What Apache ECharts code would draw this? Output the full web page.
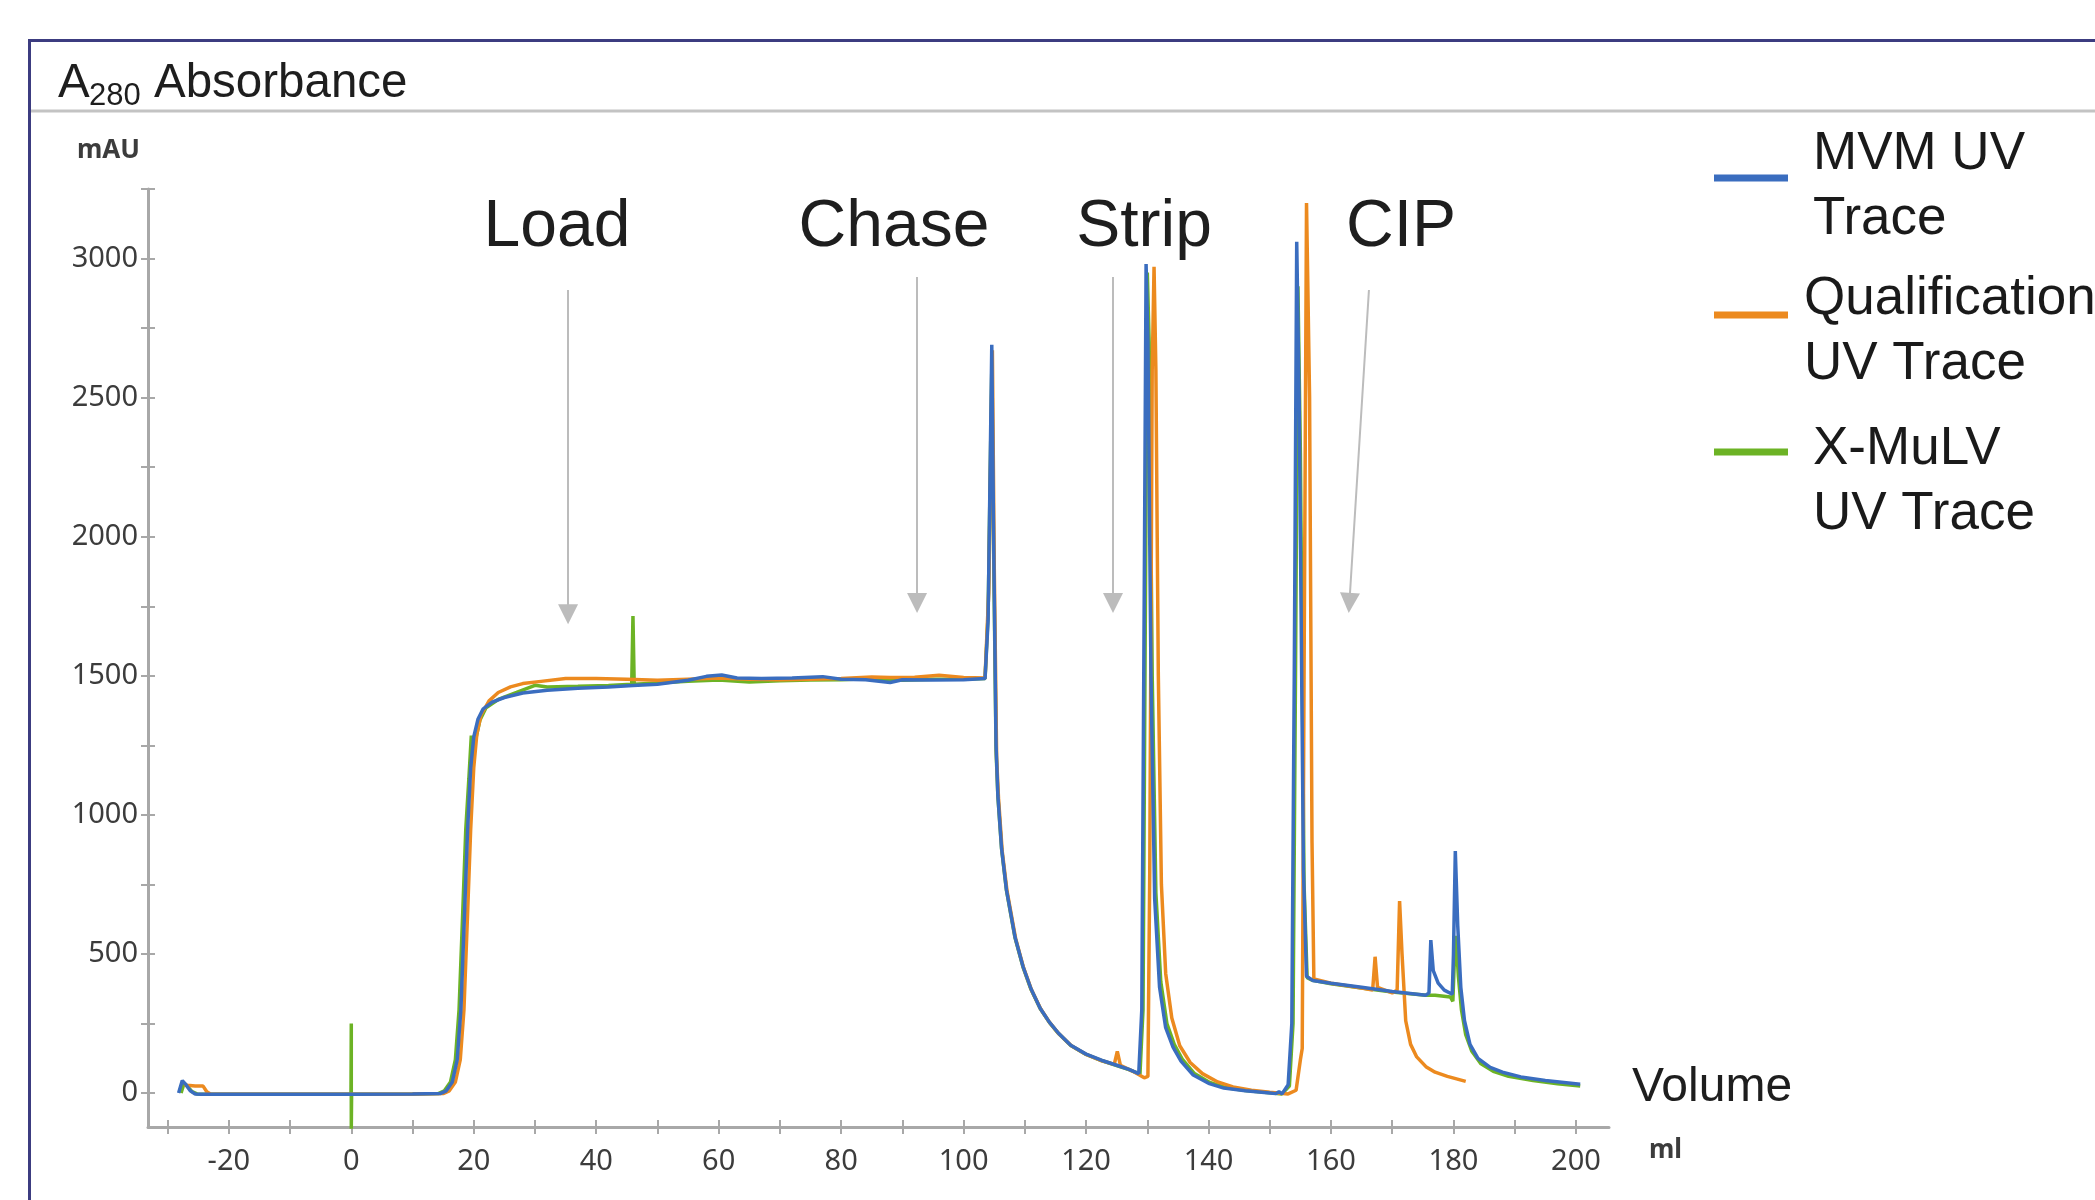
<!DOCTYPE html>
<html>
<head>
<meta charset="utf-8">
<title>A280 Absorbance</title>
<script src="https://cdn.jsdelivr.net/npm/echarts@6/dist/echarts.min.js"></script>
<style>
  html, body { margin: 0; padding: 0; background: #fff; }
  #chart { width: 2095px; height: 1200px; }
</style>
</head>
<body>
<div id="chart"></div>
<script>
// traces: [volume ml, absorbance mAU]
var mvmTrace = [
  [-28.2, 0], [-27.6, 45], [-27.0, 30], [-26.3, 8], [-25.5, -3], [-24.5, -4], [-15, -4], [0, -4],
  [10, -3], [14.5, -2], [15.5, 8], [16.5, 40], [17.3, 120], [17.9, 300], [18.5, 650], [19.0, 950],
  [19.5, 1170], [20.0, 1280], [20.7, 1345], [21.5, 1380], [23, 1405], [25, 1422], [28, 1438],
  [32, 1448], [37, 1455], [42, 1460], [46, 1465], [50, 1470], [55, 1484], [58, 1498], [60.5, 1503],
  [63, 1492], [67, 1490], [72, 1492], [77, 1497], [80, 1488], [84, 1486], [88, 1476], [90, 1486],
  [95, 1485], [100, 1486], [103.5, 1490], [104.0, 1700], [104.6, 2690], [104.9, 2000], [105.3, 1250],
  [105.6, 1068], [106.2, 880], [107.0, 730], [108.4, 560], [109.7, 455], [111, 375], [112.5, 305],
  [114, 255], [115.5, 215], [117.5, 172], [120, 140], [122.5, 118], [125, 100], [127, 85],
  [128.6, 70], [129.1, 300], [129.5, 1800], [129.8, 2980], [130.1, 2700], [130.6, 1500], [131.2, 700],
  [132, 380], [133, 235], [134.2, 165], [135.5, 115], [137.5, 65], [140, 35], [142.5, 18], [146, 8],
  [150, 0], [151, -2], [151.5, 5], [152, -3], [153, 30], [153.6, 250], [154.0, 1500], [154.4, 3060],
  [154.8, 2500], [155.5, 800], [156.0, 420], [157, 405], [160, 395], [165, 380], [170, 365],
  [175.5, 352], [176.0, 360], [176.3, 550], [176.7, 440], [177.5, 395], [178.5, 370], [179.8, 355],
  [180.0, 500], [180.3, 870], [180.7, 600], [181.2, 380], [181.8, 260], [182.7, 175], [184, 125],
  [186, 92], [188, 75], [191, 58], [195, 45], [200.7, 32]
];
var qualTrace = [
  [-27.3, 30], [-26.8, 28], [-25.5, 25], [-24.2, 25], [-23.6, 5], [-23, -3], [-15, -4], [0, -4],
  [10, -3], [15, -2], [16, 8], [17, 40], [17.8, 120], [18.4, 300], [19.0, 650], [19.5, 950],
  [20.0, 1170], [20.5, 1290], [21.2, 1360], [22.5, 1410], [24, 1440], [26, 1460], [28, 1472],
  [31, 1480], [35, 1490], [40, 1490], [45, 1488], [50, 1484], [55, 1488], [60, 1492], [65, 1488],
  [70, 1486], [75, 1488], [80, 1490], [85, 1496], [88, 1494], [92, 1495], [96, 1502], [100, 1494],
  [103.5, 1492], [104.1, 1800], [104.7, 2670], [105.0, 1900], [105.4, 1200], [105.7, 1060],
  [106.3, 870], [107.1, 725], [108.5, 555], [109.8, 450], [111.1, 370], [112.6, 302], [114.1, 252],
  [115.6, 212], [117.6, 170], [120.1, 138], [122.6, 116], [124.6, 103], [125.1, 150], [125.6, 100],
  [127.5, 80], [129.5, 55], [130.1, 60], [130.4, 800], [130.8, 2600], [131.1, 2970], [131.4, 2600],
  [131.8, 1500], [132.3, 750], [133, 430], [134, 270], [135.3, 170], [137, 110], [139, 70],
  [141.5, 40], [144, 22], [147, 10], [150, 3], [153, -3], [154.3, 10], [155.0, 120], [155.3, 160],
  [155.6, 1500], [156.0, 3200], [156.5, 2500], [156.9, 900], [157.2, 410], [160, 395], [165, 378],
  [166.8, 370], [167.2, 490], [167.6, 380], [170, 360], [170.8, 370], [171.2, 690], [171.6, 500],
  [172.2, 260], [173, 175], [174, 130], [175.5, 95], [177, 75], [179, 60], [182, 42]
];
var xmulvTrace = [
  [-27.8, 0], [-27.3, 35], [-26.8, 25], [-26, 5], [-25.2, -3], [-15, -4], [-0.05, -4], [0, 250],
  [0, -130], [0.05, -4], [10, -3], [14.2, -2], [15.2, 8], [16.2, 40], [17.0, 120], [17.6, 300],
  [18.2, 650], [18.7, 950], [19.2, 1130], [19.6, 1285], [19.8, 1150], [20.2, 1260], [21.0, 1340],
  [22, 1385], [24, 1415], [27, 1440], [30, 1466], [32, 1460], [37, 1462], [42, 1465], [45.8, 1470],
  [46.0, 1715], [46.2, 1470], [50, 1474], [55, 1480], [60, 1485], [65, 1478], [70, 1482], [75, 1485],
  [80, 1486], [85, 1490], [90, 1484], [95, 1488], [100, 1488], [103.5, 1490], [104.0, 1720],
  [104.6, 2600], [104.9, 1950], [105.3, 1230], [105.6, 1065], [106.2, 878], [107.0, 728],
  [108.4, 558], [109.7, 453], [111, 373], [112.5, 304], [114, 254], [115.5, 214], [117.5, 171],
  [120, 139], [122.5, 117], [125, 99], [127, 84], [128.8, 68], [129.3, 300], [129.7, 1800],
  [130.0, 2950], [130.3, 2700], [130.8, 1500], [131.4, 720], [132.2, 400], [133.2, 250], [134.4, 175],
  [135.7, 122], [137.7, 70], [140.2, 38], [142.7, 20], [146, 9], [150, 1], [152, -3], [153.2, 25],
  [153.8, 250], [154.2, 1500], [154.6, 2900], [155.0, 2300], [155.6, 750], [156.1, 415], [157, 405],
  [160, 393], [165, 378], [170, 363], [175.5, 352], [177, 352], [179.5, 345], [179.9, 330],
  [180.1, 450], [180.4, 565], [180.8, 420], [181.3, 300], [182, 210], [183, 150], [184.5, 105],
  [186.5, 78], [189, 60], [193, 45], [197, 33], [200.7, 25]
];

var xTickValues = [-30, -20, -10, 0, 10, 20, 30, 40, 50, 60, 70, 80, 90, 100, 110, 120, 130, 140, 150, 160, 170, 180, 190, 200];
var xLabelValues = [-20, 0, 20, 40, 60, 80, 100, 120, 140, 160, 180, 200];
var yTickValues = [0, 250, 500, 750, 1000, 1250, 1500, 1750, 2000, 2250, 2500, 2750, 3000, 3250];
var yLabelValues = [0, 500, 1000, 1500, 2000, 2500, 3000];

// phase arrows in data units: [x from, y from, x to, y to]
var phaseArrows = [
  [35.4, 2887, 35.4, 1721],
  [92.4, 2934, 92.4, 1762],
  [124.4, 2934, 124.4, 1762],
  [166.2, 2887, 163.0, 1762]
];

var blue = '#3a6dbf', orange = '#ec8a1f', green = '#6cb325';
var axisGrey = '#a8a8a8';
var sans = 'Liberation Sans, Arial, sans-serif';
var tickFont = 'Noto Sans, sans-serif';

var chart = echarts.init(document.getElementById('chart'));

function plain(v) { return String(v); }

function xAxisCfg(inside) {
  return {
    type: 'value', min: -33.2, max: 205.4, position: 'bottom',
    axisLine: { show: !inside, onZero: false, lineStyle: { color: axisGrey, width: 3 } },
    axisTick: { show: true, inside: inside, length: 7, customValues: xTickValues, lineStyle: { color: axisGrey, width: 2 } },
    axisLabel: { show: !inside, customValues: xLabelValues, formatter: plain, margin: 20, fontSize: 29, color: '#3c3c3c', fontFamily: tickFont },
    splitLine: { show: false }
  };
}
function yAxisCfg(inside) {
  return {
    type: 'value', min: -122, max: 3250, position: 'left',
    axisLine: { show: !inside, onZero: false, lineStyle: { color: axisGrey, width: 3 } },
    axisTick: { show: true, inside: inside, length: 7, customValues: yTickValues, lineStyle: { color: axisGrey, width: 2 } },
    axisLabel: { show: !inside, customValues: yLabelValues, formatter: plain, margin: 10, fontSize: 29, color: '#3c3c3c', fontFamily: tickFont },
    splitLine: { show: false }
  };
}

// spacer line of height gap pushes the two text lines down relative to the icon
function legendCfg(name, lines, iconY, gap, padLeft) {
  var rs = { fontSize: 53, lineHeight: 65, fontFamily: sans, color: '#1a1a1a', padding: [0, 0, 0, padLeft] };
  return {
    data: [name], left: 1714, top: iconY - (130 + gap) / 2, padding: 0,
    icon: 'rect', itemWidth: 74, itemHeight: 7, selectedMode: false,
    formatter: function () { return '{s| }\n{a|' + lines[0] + '}\n{a|' + lines[1] + '}'; },
    textStyle: {
      fontSize: 53, fontFamily: sans, color: '#1a1a1a',
      rich: {
        s: { fontSize: 2, lineHeight: gap, height: gap },
        a: rs
      }
    }
  };
}

function txt(text, x, y, size, opts) {
  return {
    type: 'text', x: x, y: y,
    style: Object.assign({ text: text, fontSize: size, fontFamily: sans, fill: '#1e1e1e', verticalAlign: 'middle', align: 'left' }, opts || {})
  };
}

var option = {
  animation: false,
  backgroundColor: '#fff',
  grid: { left: 148, right: 486, top: 189, bottom: 73 },
  xAxis: [xAxisCfg(false), xAxisCfg(true)],
  yAxis: [yAxisCfg(false), yAxisCfg(true)],
  legend: [
    legendCfg('MVM UV Trace', ['MVM UV', 'Trace'], 178, 17, 20),
    legendCfg('Qualification UV Trace', ['Qualification', 'UV Trace'], 315, 34, 11),
    legendCfg('X-MuLV UV Trace', ['X-MuLV', 'UV Trace'], 452, 59, 20)
  ],
  series: [
    { name: 'X-MuLV UV Trace', type: 'line', data: xmulvTrace, symbol: 'none', z: 2,
      lineStyle: { width: 3.5, color: green }, itemStyle: { color: green } },
    { name: 'Qualification UV Trace', type: 'line', data: qualTrace, symbol: 'none', z: 3,
      lineStyle: { width: 3.5, color: orange }, itemStyle: { color: orange } },
    { name: 'MVM UV Trace', type: 'line', data: mvmTrace, symbol: 'none', z: 4,
      lineStyle: { width: 3.5, color: blue }, itemStyle: { color: blue },
      markLine: {
        silent: true, animation: false,
        symbol: ['none', 'triangle'], symbolSize: 20,
        label: { show: false },
        lineStyle: { color: '#bcbcbc', width: 2, type: 'solid' },
        emphasis: { disabled: true },
        data: phaseArrows.map(function (a) {
          return [{ coord: [a[0], a[1]] }, { coord: [a[2], a[3]] }];
        })
      }
    }
  ],
  graphic: [
    { type: 'rect', shape: { x: 29.5, y: 40.5, width: 2200, height: 1300 }, style: { fill: 'none', stroke: '#3c3c80', lineWidth: 3 } },
    { type: 'line', shape: { x1: 31, y1: 111, x2: 2095, y2: 111 }, style: { stroke: '#c3c3c3', lineWidth: 3 } },
    txt('A', 58, 84, 47.5),
    txt('280', 89, 96, 31),
    txt('Absorbance', 154, 84, 47.5),
    txt('mAU', 140, 151, 26, { align: 'right', fontFamily: tickFont, fontWeight: 'bold', fill: '#3c3c3c' }),
    txt('ml', 1649, 1151, 26, { fontFamily: tickFont, fontWeight: 'bold', fill: '#3c3c3c' }),
    txt('Volume', 1632, 1088, 48),
    txt('Load', 557, 228, 66, { align: 'center' }),
    txt('Chase', 894, 228, 66, { align: 'center' }),
    txt('Strip', 1144, 228, 66, { align: 'center' }),
    txt('CIP', 1401, 228, 66, { align: 'center' })
  ]
};

chart.setOption(option);
</script>
</body>
</html>
